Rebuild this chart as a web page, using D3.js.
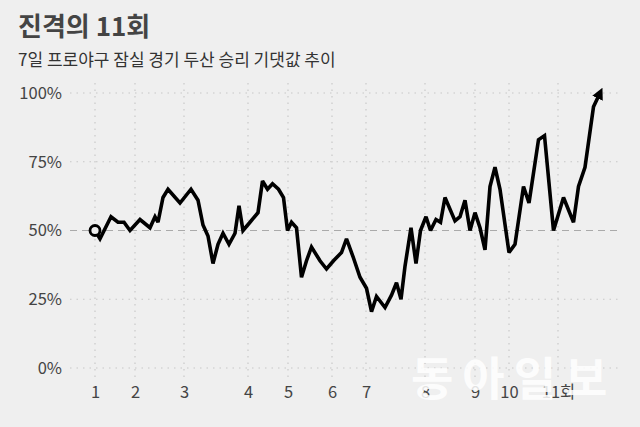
<!DOCTYPE html>
<html><head><meta charset="utf-8">
<script src="https://cdn.jsdelivr.net/npm/d3@7"></script>
<style>
html,body{margin:0;padding:0;background:#efefef;}
svg{display:block;}
text{font-family:"Noto Sans CJK KR","Noto Sans",sans-serif;}
</style></head>
<body>
<script>
// event index (plate-appearance order) and Doosan win expectancy
const events = [0,1,3.2,4.6,5.8,7,9,11,12,12.6,13.6,14.6,17,19.2,20.6,21.6,22.6,23.6,24.6,25.6,26.8,28,28.8,29.6,31,32.6,33.5,34.5,35.5,36.7,37.7,38.5,39.3,40.3,41.3,42.3,43.3,45,46.3,47.7,49.3,50.3,51.7,53,54.3,55.3,56.3,58,59.3,60.3,61.2,62,63.2,64.2,65.1,66.2,67.1,68.2,69.1,70,72,73,74,75,76,77,78,79,80,81,82.8,84,85.7,86.8,88.7,89.9,91.7,93.7,95.7,96.7,98,99.7,101];
const winExp = [0.50,0.47,0.55,0.53,0.53,0.50,0.54,0.51,0.55,0.53,0.62,0.65,0.60,0.65,0.61,0.52,0.48,0.38,0.45,0.49,0.45,0.49,0.59,0.50,0.53,0.565,0.68,0.65,0.67,0.65,0.62,0.50,0.53,0.51,0.33,0.39,0.44,0.39,0.36,0.39,0.42,0.47,0.40,0.33,0.29,0.205,0.26,0.22,0.265,0.31,0.25,0.37,0.51,0.38,0.50,0.55,0.50,0.54,0.53,0.62,0.535,0.55,0.61,0.50,0.565,0.51,0.43,0.66,0.73,0.65,0.42,0.45,0.66,0.60,0.83,0.845,0.50,0.62,0.53,0.66,0.73,0.95,1.0];
const inningEvents = [0,8,17.8,30.6,38.6,47.4,54.2,66,76,82.8,92.6];
const inningLabels = ["1","2","3","4","5","6","7","8","9","10","11회"];
const yTicks = [0,0.25,0.5,0.75,1];
const yTickLabels = ["0%","25%","50%","75%","100%"];

const W=640,H=427;
const svg=d3.select("body").append("svg").attr("width",W).attr("height",H);
svg.append("rect").attr("width",W).attr("height",H).attr("fill","#efefef");

const x=d3.scaleLinear().domain([0,101]).range([95,600]);
const y=d3.scaleLinear().domain([0,1]).range([368,93]);

svg.append("text").attr("x",18).attr("y",36).attr("font-size",26).attr("font-weight",700).attr("fill","#444").text("진격의 11회");
svg.append("text").attr("x",18).attr("y",66).attr("font-size",17).attr("fill","#333").text("7일 프로야구 잠실 경기 두산 승리 기댓값 추이");

// grid
const g=svg.append("g");
g.selectAll("line.h").data(yTicks.filter(d=>d!==0.5)).join("line")
 .attr("x1",70).attr("x2",622).attr("y1",d=>y(d)).attr("y2",d=>y(d))
 .attr("stroke","#c8c8c8").attr("stroke-width",1.2).attr("stroke-dasharray","1.5,5");
g.selectAll("line.v").data(inningEvents).join("line")
 .attr("x1",d=>x(d)).attr("x2",d=>x(d)).attr("y1",83).attr("y2",378)
 .attr("stroke","#c8c8c8").attr("stroke-width",1.2).attr("stroke-dasharray","1.5,5");
g.append("line").attr("x1",70).attr("x2",622).attr("y1",y(0.5)).attr("y2",y(0.5))
 .attr("stroke","#aaa").attr("stroke-width",1.2).attr("stroke-dasharray","7,5");

// y axis
const yAxis=d3.axisLeft(y).tickValues(yTicks).tickFormat((d,i)=>yTickLabels[i]).tickSize(0).tickPadding(0);
const ya=svg.append("g").attr("transform","translate(62,0)").call(yAxis);
ya.select(".domain").remove();
ya.selectAll("text").attr("font-size",16.5).attr("fill","#444").attr("font-family","'Noto Sans CJK KR',sans-serif");

// x axis
const xAxis=d3.axisBottom(x).tickValues(inningEvents).tickFormat((d,i)=>inningLabels[i]).tickSize(0).tickPadding(0);
const xa=svg.append("g").attr("transform","translate(0,386)").call(xAxis);
xa.select(".domain").remove();
xa.selectAll("text").attr("font-size",16.5).attr("fill","#444").attr("font-family","'Noto Sans CJK KR',sans-serif");

// line
const pts=events.map((e,i)=>[e,winExp[i]]);
svg.append("defs").append("marker").attr("id","arr").attr("viewBox","0 0 10 10")
 .attr("refX",5).attr("refY",5).attr("markerWidth",3.2).attr("markerHeight",3.2).attr("orient","auto")
 .append("path").attr("d","M0,0L10,5L0,10z").attr("fill","#000");
svg.append("path").datum(pts)
 .attr("d",d3.line().x(d=>x(d[0])).y(d=>y(d[1])))
 .attr("fill","none").attr("stroke","#000").attr("stroke-width",3.6)
 .attr("stroke-linejoin","miter").attr("stroke-miterlimit",2.5)
 .attr("marker-end","url(#arr)");
svg.append("circle").attr("cx",x(events[0])).attr("cy",y(winExp[0])).attr("r",5)
 .attr("fill","#efefef").attr("stroke","#000").attr("stroke-width",2.8);

// watermark
svg.append("text").attr("x",411).attr("y",395).attr("font-size",46).attr("font-weight",700)
 .attr("letter-spacing",9).attr("fill","#fff").attr("fill-opacity",0.85).text("동아일보");
</script>
</body></html>
